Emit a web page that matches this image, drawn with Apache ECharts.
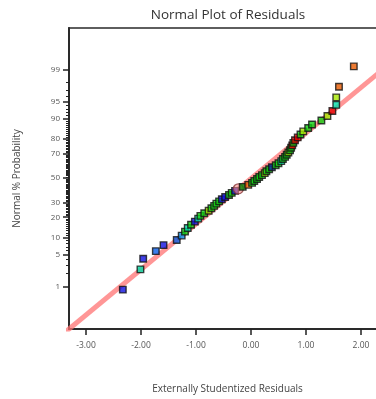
<!DOCTYPE html>
<html><head><meta charset="utf-8">
<script src="https://cdn.jsdelivr.net/npm/echarts@6/dist/echarts.min.js"></script>
<style>html,body{margin:0;padding:0;background:#fff}#c{width:376px;height:399px}</style>
</head><body><div id="c"></div>
<script>
// Externally studentized residuals (x), in rank order
const residuals = [-2.33,-2.01,-1.96,-1.73,-1.59,-1.35,-1.26,-1.20,-1.15,-1.09,
  -1.02,-0.96,-0.92,-0.85,-0.77,-0.72,-0.67,-0.63,-0.58,-0.53,
  -0.47,-0.40,-0.35,-0.29,-0.23,-0.15,-0.05,0.02,0.06,0.11,
  0.15,0.20,0.25,0.28,0.33,0.38,0.45,0.50,0.55,0.58,
  0.62,0.65,0.68,0.71,0.73,0.75,0.77,0.80,0.85,0.90,
  0.95,1.04,1.11,1.28,1.39,1.48,1.55,1.55,1.60,1.87];
// Normal % probability of each point
const probabilities = [0.83,2.50,4.17,5.83,7.50,9.17,10.83,12.50,14.17,15.83,
  17.50,19.17,20.83,22.50,24.17,25.83,27.50,29.17,30.83,32.50,
  34.17,35.83,37.50,39.17,40.83,42.50,44.17,45.83,47.50,49.17,
  50.83,52.50,54.17,55.83,57.50,59.17,60.83,62.50,64.17,65.83,
  67.50,69.17,70.83,72.50,74.17,75.83,77.50,79.17,80.83,82.50,
  84.17,85.83,87.50,89.17,90.83,92.50,94.17,95.83,97.50,99.17];
const pointColors = ['blue','teal','blue','mblue','blue','mblue','azure','green','teal','green',
  'blue','teal','green','green','ygreen','green','green','green','green','blue',
  'blue','green','green','blue','pink','dgreen','orange','green','green','green',
  'green','green','ygreen','green','green','dblue','green','green','teal','green',
  'green','green','ygreen','green','green','red','green','red','red','green',
  'ygreen','green','green','green','ygreen','red','teal','ygreen','orange','orange'];
const palette = {blue:'#1010e0', dblue:'#0a2a9a', mblue:'#0a5ee6', azure:'#0a96f0', teal:'#00dca8',
  green:'#10d010', dgreen:'#0a8a0a', ygreen:'#a6e800', red:'#e80000', orange:'#e85a00', pink:'#f4a0a0'};
const yTickLabels = [1,5,10,20,30,50,70,80,90,95,99];
const xTickLabels = [-3,-2,-1,0,1,2];
const fitLineX = [-3.40, 2.50];
const fitLineZ = [-3.33, 2.43];

// inverse normal CDF (probit scale of the axis)
function probit(p){
  const a=[-39.69683028665376,220.9460984245205,-275.9285104469687,138.3577518672690,-30.66479806614716,2.506628277459239];
  const b=[-54.47609879822406,161.5858368580409,-155.6989798598866,66.80131188771972,-13.28068155288572];
  const c=[-0.007784894002430293,-0.3223964580411365,-2.400758277161838,-2.549732539343734,4.374664141464968,2.938163982698783];
  const d=[0.007784695709041462,0.3224671290700398,2.445134137142996,3.754408661907416];
  const pl=0.02425; let q,r;
  if(p<pl){q=Math.sqrt(-2*Math.log(p));return (((((c[0]*q+c[1])*q+c[2])*q+c[3])*q+c[4])*q+c[5])/((((d[0]*q+d[1])*q+d[2])*q+d[3])*q+1);}
  if(p<=1-pl){q=p-0.5;r=q*q;return (((((a[0]*r+a[1])*r+a[2])*r+a[3])*r+a[4])*r+a[5])*q/(((((b[0]*r+b[1])*r+b[2])*r+b[3])*r+b[4])*r+1);}
  q=Math.sqrt(-2*Math.log(1-p));return -(((((c[0]*q+c[1])*q+c[2])*q+c[3])*q+c[4])*q+c[5])/((((d[0]*q+d[1])*q+d[2])*q+d[3])*q+1);
}
const majorZ = yTickLabels.map(v=>probit(v/100));
const minorZ = [];
for(let k=1;k<100;k++){ if(yTickLabels.indexOf(k)<0) minorZ.push(probit(k/100)); }

const pts = residuals.map((x,i)=>{
  const c = pointColors[i];
  const hl = c==='pink';
  return {value:[x, probit(probabilities[i]/100)],
    symbol: hl?'circle':'rect', symbolSize: hl?10:6.5,
    itemStyle:{color: hl?'rgba(240,140,140,0.75)':palette[c], borderColor: hl?'#8a3a3a':'#111', borderWidth:1.4}};
});

const FONT = 'Open Sans';
const chart = echarts.init(document.getElementById('c'), null, {renderer:'canvas'});
chart.setOption({
  animation:false,
  textStyle:{fontFamily:FONT},
  title:{text:'Normal Plot of Residuals', left:223, top:3, textAlign:'center',
    textStyle:{fontSize:13.5, fontWeight:'normal', color:'#333', fontFamily:FONT}},
  grid:{left:69, top:28, width:317, height:301, outerBoundsMode:'none', containLabel:false,
    show:true, borderColor:'#2a2a2a', borderWidth:1.5, backgroundColor:'#fff'},
  xAxis:{type:'value', min:-3.309, max:2.455,
    name:'Externally Studentized Residuals', nameLocation:'middle', nameGap:55,
    nameTextStyle:{fontSize:10, color:'#444', fontFamily:FONT},
    axisLine:{show:true, onZero:false, lineStyle:{color:'#2a2a2a', width:2}},
    axisTick:{show:true, customValues:xTickLabels, length:6, lineStyle:{color:'#222', width:1.5}},
    axisLabel:{customValues:xTickLabels, formatter:v=>v.toFixed(2), fontSize:8.5, color:'#555', margin:12},
    splitLine:{show:false}},
  yAxis:[{type:'value', min:-3.24, max:3.22,
    name:'Normal % Probability', nameLocation:'middle', nameGap:47,
    nameTextStyle:{fontSize:10, color:'#444', fontFamily:FONT},
    axisLine:{show:true, onZero:false, lineStyle:{color:'#2a2a2a', width:2}},
    axisTick:{show:true, customValues:majorZ, length:6, lineStyle:{color:'#222', width:1.5}},
    axisLabel:{customValues:majorZ, fontSize:8, color:'#555', margin:9,
      formatter:v=>{let best=0,bd=1e9;majorZ.forEach((z,i)=>{const d=Math.abs(z-v);if(d<bd){bd=d;best=i;}});return String(yTickLabels[best]);}},
    splitLine:{show:false}},
   {type:'value', min:-3.24, max:3.22, position:'left',
    axisLine:{show:false, onZero:false},
    axisTick:{show:true, customValues:minorZ, length:3, lineStyle:{color:'#222', width:1}},
    axisLabel:{show:false}, splitLine:{show:false}}],
  series:[
    {type:'line', data:fitLineX.map((x,i)=>[x,fitLineZ[i]]), symbol:'none', clip:true, z:1,
      lineStyle:{color:'rgba(255,115,115,0.75)', width:5}},
    {type:'scatter', data:pts, z:3, clip:false}
  ]
});
</script></body></html>
